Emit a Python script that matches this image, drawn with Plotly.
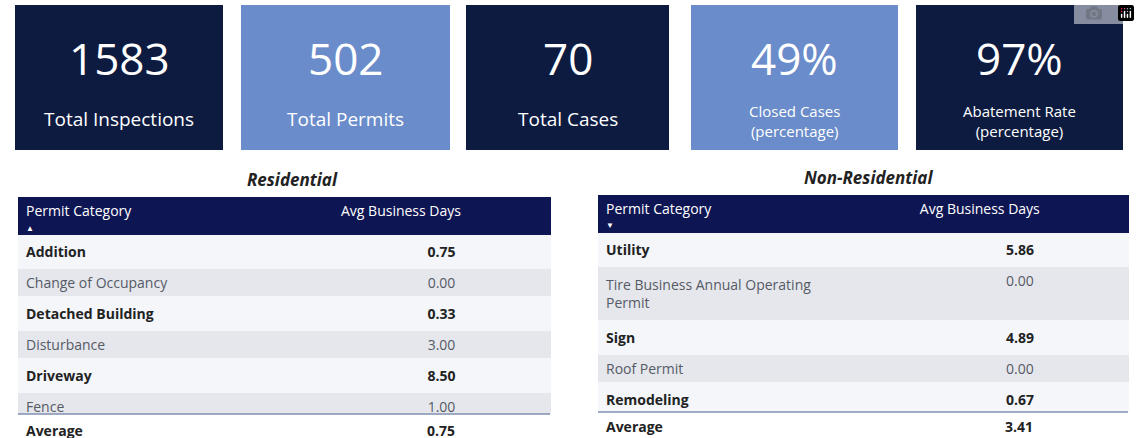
import plotly.graph_objects as go

W, H = 1140, 438

# KPI cards
kpi_values = ["1583", "502", "70", "49%", "97%"]
kpi_labels = ["Total Inspections", "Total Permits", "Total Cases",
              "Closed Cases<br>(percentage)", "Abatement Rate<br>(percentage)"]

# tables
res_categories = ["Addition", "Change of Occupancy", "Detached Building", "Disturbance",
                  "Driveway", "Fence", "Flood Zone Determination"]
res_days = [0.75, 0.00, 0.33, 3.00, 8.50, 1.00, 1.50]
res_average = 0.75

nonres_categories = ["Utility", "Tire Business Annual Operating<br>Permit", "Sign",
                     "Roof Permit", "Remodeling", "Parking Lot"]
nonres_days = [5.86, 0.00, 4.89, 0.00, 0.67, 4.00]
nonres_average = 3.41

NAVY = "#0d1b40"
LIGHT = "#6a8cca"
HEAD = "#0e1553"
FONT = "Open Sans"


def py(p):
    return 1 - p / H


def px(p):
    return p / W


fig = go.Figure()

# cards
cards = [(15, 223, NAVY), (241, 450, LIGHT), (466, 669, NAVY), (691, 898, LIGHT), (916, 1123, NAVY)]
for (x0, x1, col), val, lab in zip(cards, kpi_values, kpi_labels):
    fig.add_shape(type="rect", xref="paper", yref="paper", x0=px(x0), x1=px(x1),
                  y0=py(150), y1=py(5), fillcolor=col, line_width=0, layer="below")
    fig.add_annotation(x=px((x0 + x1) / 2), y=py(58), text=val, showarrow=False,
                       xanchor="center", yanchor="middle",
                       font=dict(size=44, color="white", family=FONT))
    two = "<br>" in lab
    fig.add_annotation(x=px((x0 + x1) / 2), y=py(121 if two else 119), text=lab, showarrow=False,
                       xanchor="center", yanchor="middle",
                       font=dict(size=15 if two else 19, color="white", family=FONT))


def zebra(n):
    return ["#f4f6fa" if i % 2 == 0 else "#e5e7ec" for i in range(n)]


def fmt_names(names):
    return [f"<b>{n}</b>" if i % 2 == 0 else n for i, n in enumerate(names)]


def fmt_vals(vals):
    return [f"<b>{v:.2f}</b>" if i % 2 == 0 else f"{v:.2f}" for i, v in enumerate(vals)]


def table(names, vals, x0, x1, y0, y1):
    n = len(names)
    colors = ["#222222" if i % 2 == 0 else "#555a66" for i in range(n)]
    return go.Table(
        domain=dict(x=[px(x0), px(x1)], y=[py(y1), py(y0)]),
        columnwidth=[315, 217],
        header=dict(values=["Permit Category", "Avg Business Days"],
                    fill_color=HEAD, line_color=HEAD, align="left", height=37,
                    font=dict(color="white", size=14, family=FONT)),
        cells=dict(values=[fmt_names(names), fmt_vals(vals)],
                   fill_color=[zebra(n), zebra(n)], line_color=[zebra(n), zebra(n)],
                   align=["left", "center"], height=27,
                   font=dict(color=[colors, colors], size=14, family=FONT)))


fig.add_trace(table(res_categories, res_days, 18, 550, 197, 414))
fig.add_trace(table(nonres_categories, nonres_days, 598, 1128, 195, 412))

# sort arrows in the headers
fig.add_annotation(x=px(30), y=py(227), text="▲", showarrow=False, xanchor="center",
                   font=dict(size=8, color="white"))
fig.add_annotation(x=px(610), y=py(224), text="▼", showarrow=False, xanchor="center",
                   font=dict(size=8, color="white"))

# titles and averages
fig.add_annotation(x=px(292), y=py(179), text="<b><i>Residential</i></b>", showarrow=False,
                   xanchor="center", font=dict(size=17, color="#222", family=FONT))
fig.add_annotation(x=px(868), y=py(177), text="<b><i>Non-Residential</i></b>", showarrow=False,
                   xanchor="center", font=dict(size=17, color="#222", family=FONT))

for (x0, x1, ly, ty, avg) in [(18, 550, 414, 430, res_average), (598, 1128, 412, 426, nonres_average)]:
    fig.add_shape(type="line", xref="paper", yref="paper", x0=px(x0), x1=px(x1),
                  y0=py(ly), y1=py(ly), line=dict(color="#8090b0", width=1.5))
    fig.add_annotation(x=px(x0 + 6), y=py(ty), xanchor="left", yanchor="middle", text="<b>Average</b>",
                       showarrow=False, font=dict(size=14, color="#222", family=FONT))
    fig.add_annotation(x=px(x0 + (x1 - x0) * 0.795), y=py(ty), xanchor="center", yanchor="middle",
                       text=f"<b>{avg:.2f}</b>",
                       showarrow=False, font=dict(size=14, color="#222", family=FONT))

fig.update_layout(width=W, height=H, margin=dict(l=0, r=0, t=0, b=0),
                  paper_bgcolor="white", plot_bgcolor="white")

fig.write_html("out.html", post_script="document.body.style.margin='0';")
